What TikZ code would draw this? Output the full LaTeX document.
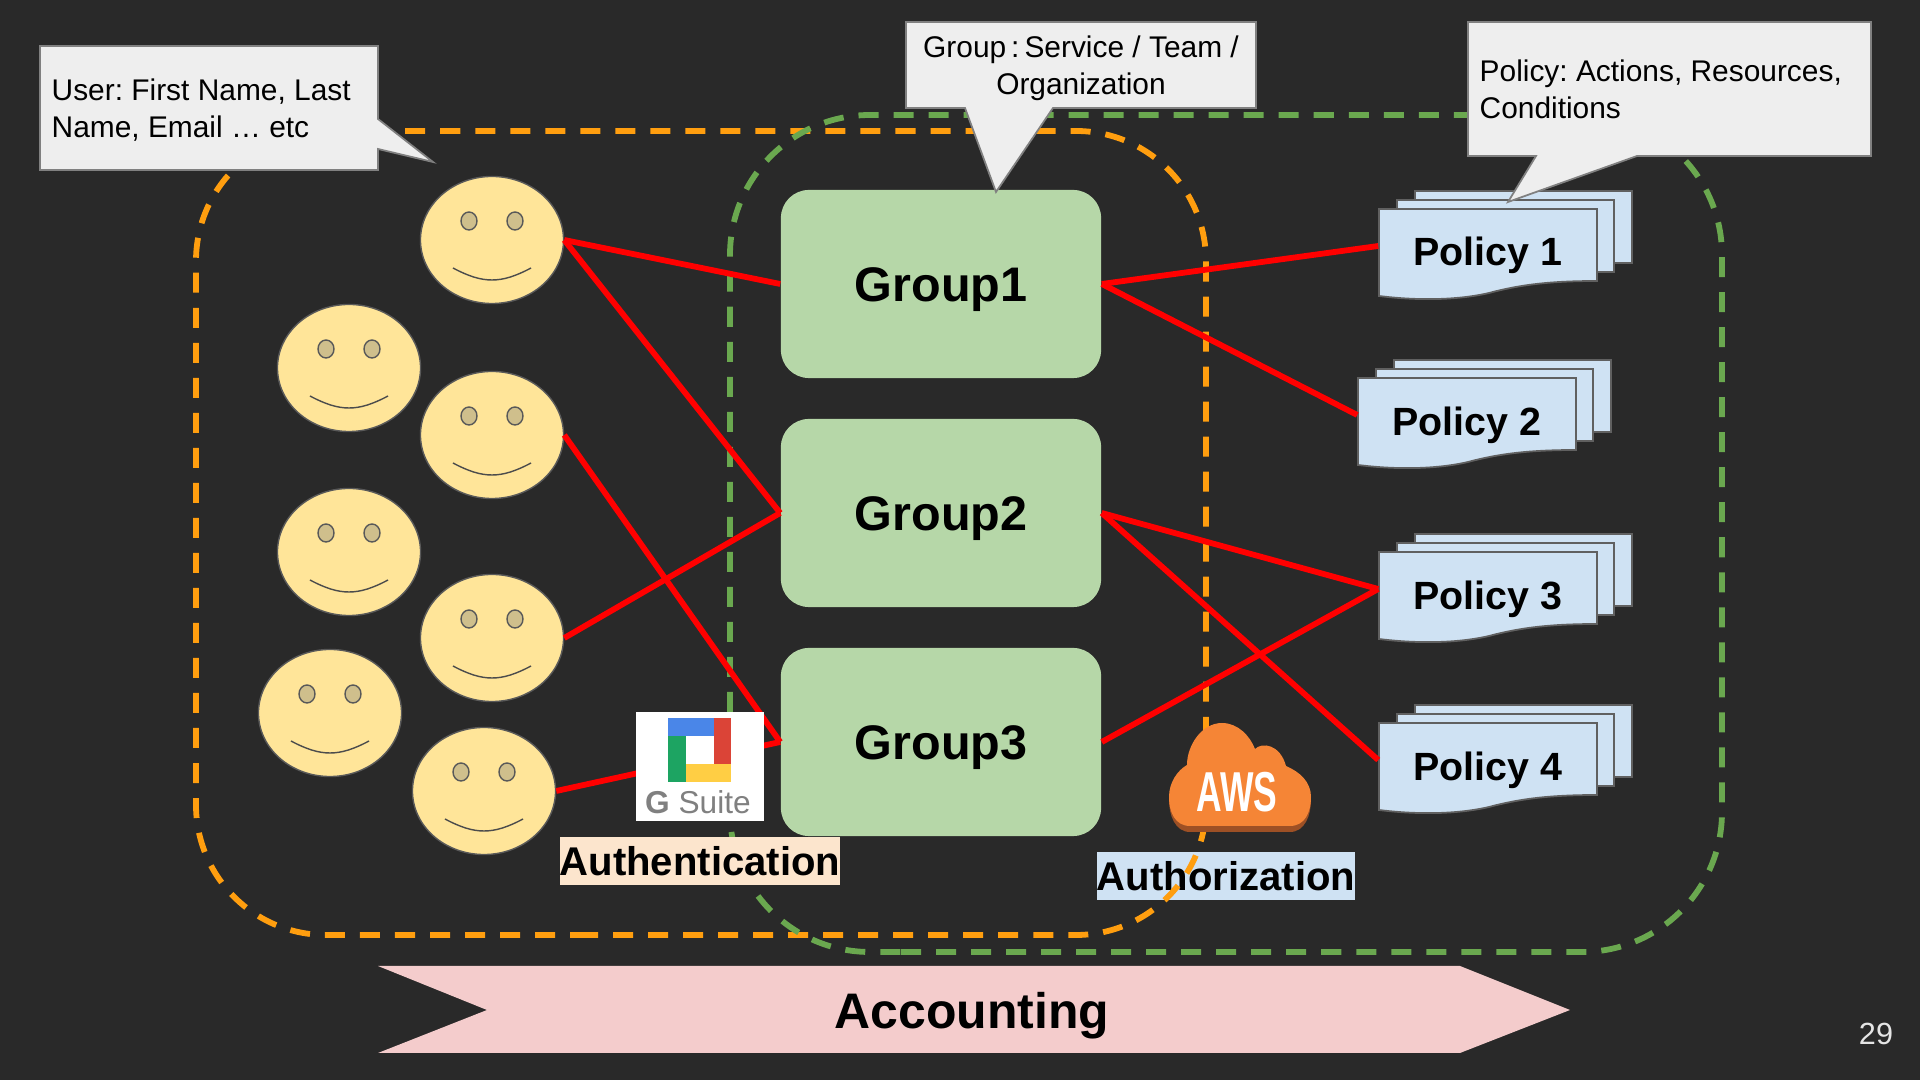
\documentclass[tikz,border=0pt]{standalone}
\usepackage{fontspec}
\setmainfont{Liberation Sans}
\usetikzlibrary{shapes.geometric}

\definecolor{slidebg}{HTML}{292929}
\definecolor{facefill}{HTML}{FFE599}
\definecolor{eyefill}{HTML}{CFBF8C}
\definecolor{groupfill}{HTML}{B6D7A8}
\definecolor{docfill}{HTML}{CFE2F3}
\definecolor{notefill}{HTML}{EEEEEE}
\definecolor{authnfill}{HTML}{FCE5CD}
\definecolor{acctfill}{HTML}{F4CCCC}
\definecolor{dashorange}{HTML}{FF9E0F}
\definecolor{dashgreen}{HTML}{6AA84F}
\definecolor{awsorange}{HTML}{F58536}
\definecolor{awsdark}{HTML}{9D5025}
\definecolor{logoblue}{HTML}{4A86E8}
\definecolor{logored}{HTML}{DB4437}
\definecolor{logoyellow}{HTML}{FFCE44}
\definecolor{logogreen}{HTML}{1DA462}

\tikzset{
  docsheet/.style={draw=gray!75!black, line width=.5pt, fill=docfill}
}

% stacked sheets, #2 #3 = top left of the front sheet
\newcommand{\policydoc}[4]{
  \begin{scope}[shift={(#2,#3)}]
    \draw[docsheet] (36,-18) rectangle (253,54);
    \draw[docsheet] (18,-9) rectangle (235,63);
    \draw[docsheet] (0,0) -- (218,0) -- (218,72) .. controls (170,72) and (140,76) .. (110,84)
      .. controls (80,91) and (40,92) .. (0,87) -- cycle;
    \node[policytag] (#1) at (109,37) {\raisebox{-.06cm}{#4}};
  \end{scope}
}

\begin{document}
\begin{tikzpicture}[
  x=.01cm, y=-.01cm,
  face/.style={ellipse, draw=black!65, line width=.4pt, fill=facefill, inner sep=0pt,
               minimum width=1.43cm, minimum height=1.27cm,
               path picture={
                 \begin{scope}[shift={(path picture bounding box.center)}]
                   \draw[black!65, line width=.4pt, fill=eyefill] (-23,-19) ellipse [x radius=8, y radius=9];
                   \draw[black!65, line width=.4pt, fill=eyefill] (23,-19) ellipse [x radius=8, y radius=9];
                   \draw[black!70, line width=.4pt] (-39,28) .. controls (-24,36) and (-12,40) .. (0,40)
                     .. controls (12,40) and (24,36) .. (39,28);
                 \end{scope}}},
  groupbox/.style={rectangle, rounded corners=.28cm, fill=groupfill, minimum width=3.2cm,
                   minimum height=1.88cm, text height=.35cm, text depth=0pt,
                   font=\fontsize{13.8}{16}\selectfont\bfseries},
  policytag/.style={rectangle, minimum width=2.18cm, minimum height=.74cm, inner sep=0pt,
                    text height=.28cm, text depth=0pt,
                    font=\fontsize{11.2}{13}\selectfont\bfseries},
  note/.style={draw=gray, line width=.5pt, fill=notefill},
  notetext/.style={font=\fontsize{8.5}{10.45}\selectfont\frenchspacing, inner sep=0pt, align=left},
  tag/.style={rectangle, inner sep=0pt, font=\fontsize{11.4}{13}\selectfont\bfseries,
              minimum height=.48cm},
  scopeline/.style={line width=.058cm, dash pattern=on .2cm off .15cm},
  link/.style={red, line width=.058cm}
]
  \useasboundingbox (0,0) rectangle (1920,1080);
  \fill[slidebg] (0,0) rectangle (1920,1080);

  \node[tag, fill=docfill, minimum width=2.57cm] (authz) at (1226,876) {Authorization};

  % Scopes
  \draw[scopeline, dashorange, rounded corners=1.3cm] (578,935) -| (1206,131) -| (196,935) -- (578,935);
  \draw[scopeline, dashgreen, rounded corners=1.4cm] (901,952) -| (1722,115) -| (730,952) -- (901,952);

  % Users
  \node[face] (user1) at (492,240) {};
  \node[face] (user2) at (349,368) {};
  \node[face] (user3) at (492,435) {};
  \node[face] (user4) at (349,552) {};
  \node[face] (user5) at (492,638) {};
  \node[face] (user6) at (330,713) {};
  \node[face] (user7) at (484,791) {};

  % Groups
  \node[groupbox] (group1) at (941,284) {Group1};
  \node[groupbox] (group2) at (941,513) {Group2};
  \node[groupbox] (group3) at (941,742) {Group3};

  % Policies
  \policydoc{policy1}{1379}{209}{Policy 1}
  \policydoc{policy2}{1358}{378}{Policy 2}
  \policydoc{policy3}{1379}{552}{Policy 3}
  \policydoc{policy4}{1379}{723}{Policy 4}

  \draw[link] (user1.east) -- (group1.west);
  \draw[link] (user1.east) -- (group2.west);
  \draw[link] (user3.east) -- (group3.west);
  \draw[link] (user5.east) -- (group2.west);
  \draw[link] (user7.east) -- (group3.west);
  \draw[link] (group1.east) -- (policy1.west);
  \draw[link] (group1.east) -- (policy2.west);
  \draw[link] (group2.east) -- (policy3.west);
  \draw[link] (group2.east) -- (policy4.west);
  \draw[link] (group3.east) -- (policy3.west);

  % Callouts
  \draw[note] (40,46) -- (378,46) -- (378,119) -- (433,162) -- (378,149) -- (378,170) -- (40,170) -- cycle;
  \node[notetext, anchor=west] (usernote) at (51,110) {User: First Name, Last\\Name, Email \dots\ etc};
  \draw[note] (906,22) -- (1256,22) -- (1256,108) -- (1053,108) -- (996,192) -- (965,108) -- (906,108) -- cycle;
  \node[notetext, align=center] (groupnote) at (1081,68) {Group\,:\,Service / Team /\\Organization};
  \draw[note] (1468,22) -- (1871,22) -- (1871,156) -- (1637,156) -- (1508,202) -- (1536,156) -- (1468,156) -- cycle;
  \node[notetext, anchor=west] (policynote) at (1479,89) {Policy: Actions, Resources,\\Conditions};

  % G Suite
  \node[rectangle, fill=white, minimum width=1.28cm, minimum height=1.09cm] (gsuite) at (700,766.5) {};
  \fill[logoblue] (668,718) rectangle (714,736);
  \fill[logored] (714,718) rectangle (731,764);
  \fill[logoyellow] (686,764) rectangle (731,782);
  \fill[logogreen] (668,736) rectangle (686,782);
  \node[text=gray, font=\fontsize{9}{11}\selectfont, inner sep=0pt] (gsuitetext) at (698,802) {\textbf{G} Suite};
  \node[tag, fill=authnfill, minimum width=2.8cm] (authn) at (700,861) {Authentication};

  % AWS
  \fill[awsdark] (1190,832) .. controls (1175,832) and (1169,815) .. (1169,800) -- (1311,800)
    .. controls (1311,815) and (1305,832) .. (1290,832) -- cycle;
  \fill[awsorange] (1190,826) .. controls (1175,826) and (1169,812) .. (1169,797)
    .. controls (1169,782) and (1178,770) .. (1187,765)
    .. controls (1187,745) and (1202,723) .. (1222,723)
    .. controls (1238,723) and (1250,736) .. (1255,749)
    .. controls (1262,742) and (1280,744) .. (1286,766)
    .. controls (1300,772) and (1311,782) .. (1311,797)
    .. controls (1311,812) and (1305,826) .. (1290,826) -- cycle;
  \node[text=white, font=\fontsize{16}{18}\selectfont\bfseries, transform shape, xscale=.63, inner sep=0pt] (aws) at (1237,792) {AWS};

  % Accounting
  \fill[acctfill] (378,966) -- (1460,966) -- (1570,1010) -- (1460,1053) -- (378,1053) -- (487,1010) -- cycle;
  \node[font=\fontsize{14.2}{16}\selectfont\bfseries, text height=.36cm, text depth=0pt] (acct) at (972,1010) {Accounting};

  \node[text=white!90!black, font=\fontsize{8.7}{10}\selectfont] (pageno) at (1876,1034) {29};
\end{tikzpicture}
\end{document}
